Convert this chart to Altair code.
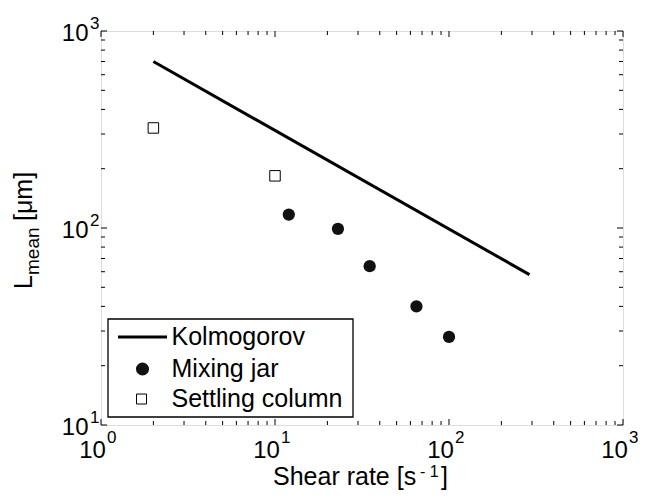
import altair as alt
import pandas as pd

# ---- data ----
kolmo_x = [2, 290]
kolmo_y = [700, 58]
jar_x = [12, 23, 35, 65, 100]
jar_y = [117, 99, 64, 40, 28]
col_x = [2, 10]
col_y = [322, 184]

x_major = [1, 10, 100, 1000]
x_exp = ["0", "1", "2", "3"]
y_major = [10, 100, 1000]
y_exp = ["1", "2", "3"]
x_minor = [m * d for d in [1, 10, 100] for m in range(2, 10)]
y_minor = [m * d for d in [10, 100] for m in range(2, 10)]

legend_labels = ["Kolmogorov", "Mixing jar", "Settling column"]

W, H = 522, 394
FONT = "Liberation Sans"

xs = alt.Scale(type="log", domain=[1, 1000], nice=False)
ys = alt.Scale(type="log", domain=[10, 1000], nice=False)

x_axis = alt.Axis(values=x_major, labelExpr="'10'", grid=False, ticks=False,
                  domain=False, labelFont=FONT, labelFontSize=24, labelColor="black",
                  labelPadding=13, labelOffset=-9, labelAlign="center", labelFlush=False,
                  labelOverlap=False, title=None)
y_axis = alt.Axis(values=y_major, labelExpr="'10'", grid=False, ticks=False,
                  domain=False, labelFont=FONT, labelFontSize=24, labelColor="black",
                  labelPadding=13, labelOffset=2, labelFlush=False, labelOverlap=False, title=None)

kolmo_df = pd.DataFrame({"x": kolmo_x, "y": kolmo_y})
jar_df = pd.DataFrame({"x": jar_x, "y": jar_y})
col_df = pd.DataFrame({"x": col_x, "y": col_y})

line = alt.Chart(kolmo_df).mark_line(color="black", strokeWidth=3).encode(
    x=alt.X("x:Q", scale=xs, axis=x_axis),
    y=alt.Y("y:Q", scale=ys, axis=y_axis),
)
jar = alt.Chart(jar_df).mark_point(shape="circle", filled=True, color="#111", size=150, opacity=1).encode(
    x=alt.X("x:Q", scale=xs), y=alt.Y("y:Q", scale=ys))
col = alt.Chart(col_df).mark_point(shape="square", fill="white", stroke="black", strokeWidth=1,
                                   size=110, opacity=1, fillOpacity=1).encode(
    x=alt.X("x:Q", scale=xs), y=alt.Y("y:Q", scale=ys))

layers = [line, jar, col]

# exponents of the tick labels
xe_df = pd.DataFrame({"v": x_major, "e": x_exp})
ye_df = pd.DataFrame({"v": y_major, "e": y_exp})
layers.append(alt.Chart(xe_df).mark_text(align="left", baseline="alphabetic", font=FONT, fontSize=17,
                                         color="black", dx=6).encode(
    x=alt.X("v:Q", scale=xs), y=alt.value(H + 18), text="e:N"))
layers.append(alt.Chart(ye_df).mark_text(align="left", baseline="alphabetic", font=FONT, fontSize=17,
                                         color="black", dy=-2).encode(
    y=alt.Y("v:Q", scale=ys), x=alt.value(-11), text="e:N"))

# inside ticks on all four sides
for vals, L in [(x_major, 6), (x_minor, 4)]:
    df = pd.DataFrame({"v": vals})
    layers.append(alt.Chart(df).mark_rule(color="black", strokeWidth=1).encode(
        x=alt.X("v:Q", scale=xs), y=alt.value(H), y2=alt.value(H - L)))
    layers.append(alt.Chart(df).mark_rule(color="black", strokeWidth=1).encode(
        x=alt.X("v:Q", scale=xs), y=alt.value(0), y2=alt.value(L)))
for vals, L in [(y_major, 6), (y_minor, 4)]:
    df = pd.DataFrame({"v": vals})
    layers.append(alt.Chart(df).mark_rule(color="black", strokeWidth=1).encode(
        y=alt.Y("v:Q", scale=ys), x=alt.value(0), x2=alt.value(L)))
    layers.append(alt.Chart(df).mark_rule(color="black", strokeWidth=1).encode(
        y=alt.Y("v:Q", scale=ys), x=alt.value(W), x2=alt.value(W - L)))

# manual legend
one = pd.DataFrame({"a": [0]})
layers.append(alt.Chart(one).mark_rect(fill="white", stroke="black", strokeWidth=1.3).encode(
    x=alt.value(7), x2=alt.value(252), y=alt.value(288), y2=alt.value(386)))
layers.append(alt.Chart(one).mark_rule(color="black", strokeWidth=3).encode(
    x=alt.value(17), x2=alt.value(66), y=alt.value(306)))
layers.append(alt.Chart(one).mark_point(shape="circle", filled=True, color="#111", size=170, opacity=1).encode(
    x=alt.value(41.5), y=alt.value(338)))
layers.append(alt.Chart(one).mark_point(shape="square", fill="white", stroke="black", strokeWidth=1,
                                        size=100, opacity=1, fillOpacity=1).encode(
    x=alt.value(40.5), y=alt.value(368)))
leg_df = pd.DataFrame({"t": legend_labels, "yy": [306, 338, 368]})
layers.append(alt.Chart(leg_df).mark_text(align="left", baseline="middle", font=FONT, fontSize=25,
                                          color="black").encode(
    x=alt.value(70.5), y=alt.Y("yy:Q", scale=None), text="t:N"))

# y title: L_mean [μm]
ytitle = pd.DataFrame({"t": ["L", "mean", "[μm]"], "xx": [-69, -62, -69], "yy": [258, 244, 190],
                       "fs": [25, 19, 25]})
layers.append(alt.Chart(ytitle).mark_text(align="left", baseline="alphabetic", angle=270, font=FONT,
                                          color="black").encode(
    x=alt.X("xx:Q", scale=None), y=alt.Y("yy:Q", scale=None), text="t:N",
    size=alt.Size("fs:Q", scale=None, legend=None)))

# x title: Shear rate [s^-1]
xtitle = pd.DataFrame({"t": ["Shear rate [s", "- 1", "]"], "xx": [172, 319, 340],
                       "yy": [H + 60, H + 52, H + 60], "fs": [25, 16, 25]})
layers.append(alt.Chart(xtitle).mark_text(align="left", baseline="alphabetic", font=FONT,
                                          color="black").encode(
    x=alt.X("xx:Q", scale=None), y=alt.Y("yy:Q", scale=None), text="t:N",
    size=alt.Size("fs:Q", scale=None, legend=None)))

chart = alt.layer(*layers).properties(
    width=W, height=H,
    autosize=alt.AutoSizeParams(type="none"),
    padding={"left": 93, "top": 23, "right": 15, "bottom": 68},
).configure_view(stroke="black", strokeWidth=1.3).configure(background="white")

chart.save("out.html", embed_options={"renderer": "svg", "actions": False})
